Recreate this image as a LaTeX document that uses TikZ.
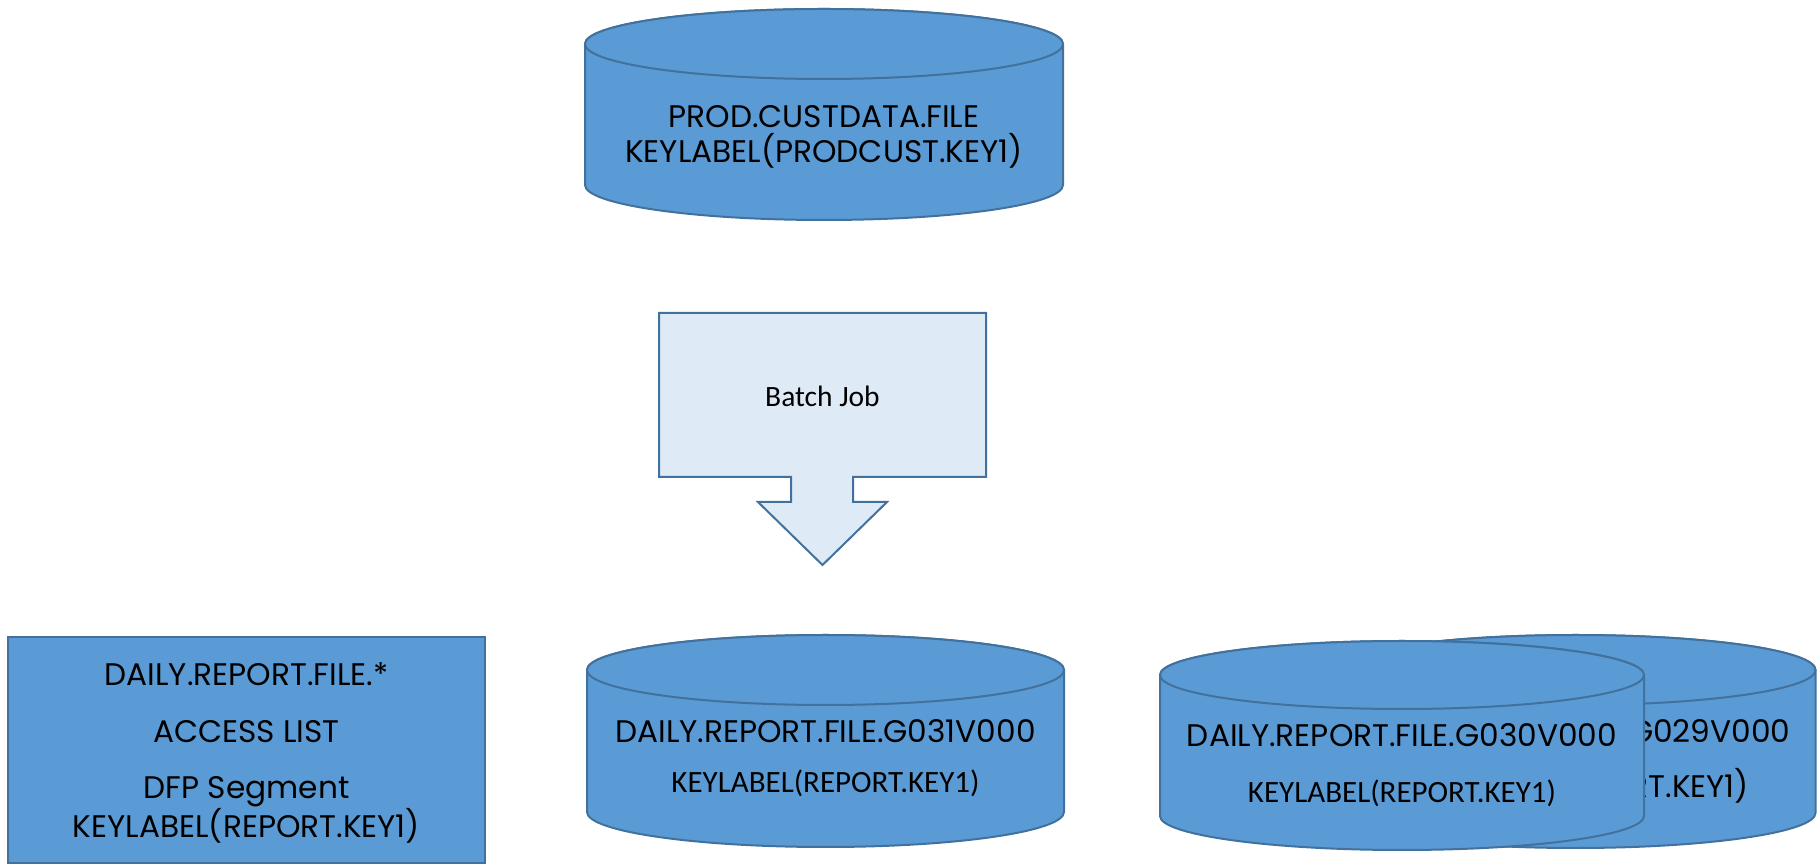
\documentclass[tikz,border=0pt]{standalone}
\usepackage{fontspec}
\newfontfamily\gothic{Poppins}
\newfontfamily\calib{Carlito}
\definecolor{cylfill}{HTML}{5B9BD5}
\definecolor{cylline}{HTML}{41719C}
\definecolor{arrfill}{HTML}{DEEBF7}
\newcommand\dbcyl[5]{%
  \draw[cylstyle] ({#1-#4},#2) -- ({#1-#4},#3)
    arc[start angle=180,end angle=360,x radius=#4,y radius=#5]
    -- ({#1+#4},#2)
    arc[start angle=0,end angle=180,x radius=#4,y radius=#5] -- cycle;
  \draw[cylstyle] (#1,#2) ellipse[x radius=#4,y radius=#5];
}
\tikzset{
  cylstyle/.style={fill=cylfill,draw=cylline,line width=2pt},
  boxstyle/.style={fill=cylfill,draw=cylline,line width=2pt},
  arrstyle/.style={fill=arrfill,draw=cylline,line width=2pt},
  gtxt/.style={anchor=base,inner sep=0pt,font=\gothic\fontsize{31.2}{37}\selectfont},
  ctxt/.style={anchor=base,inner sep=0pt,font=\calib\fontsize{31}{37}\selectfont},
  bjtxt/.style={anchor=base,inner sep=0pt,font=\calib\fontsize{29.5}{35}\selectfont},
}
\begin{document}
\begin{tikzpicture}[x=1pt,y=1pt]
\useasboundingbox (0,0) rectangle (1817,867);
% top cylinder
\dbcyl{824}{823}{682}{239}{35}
\node[gtxt] (p1) at (824,739) {PROD.CUSTDATA.FILE};
\node[gtxt] (p2) at (824,704) {KEYLABEL(PRODCUST.KEY1)};
% batch job arrow
\draw[arrstyle] (659,554) -- (986,554) -- (986,390) -- (853,390) -- (853,365)
  -- (887,365) -- (822.5,302) -- (758,365) -- (791,365) -- (791,390)
  -- (659,390) -- cycle;
\node[bjtxt] (bj) at (822.5,460.5) {Batch Job};
% left box
\draw[boxstyle] (8,4) rectangle (485,230);
\node[gtxt] (l1) at (246.5,181) {DAILY.REPORT.FILE.*};
\node[gtxt] (l2) at (246.5,124) {ACCESS LIST};
\node[gtxt] (l3) at (246.5,68) {DFP Segment};
\node[gtxt] (l4) at (246.5,29) {KEYLABEL(REPORT.KEY1)};
% middle bottom cylinder
\dbcyl{825.5}{197}{55}{238.5}{35}
\node[gtxt] (m1) at (825.5,124) {DAILY.REPORT.FILE.G031V000};
\node[ctxt] (m2) at (825.5,74) {KEYLABEL(REPORT.KEY1)};
% back right cylinder
\dbcyl{1575.5}{197}{54}{240}{35}
\node[gtxt] (b1) at (1575.5,124) {DAILY.REPORT.FILE.G029V000};
\node[gtxt] (b2) at (1575.5,69) {KEYLABEL(REPORT.KEY1)};
% front right cylinder
\dbcyl{1402}{192}{51}{242}{34}
\node[gtxt] (f1) at (1402,120) {DAILY.REPORT.FILE.G030V000};
\node[ctxt] (f2) at (1402,64) {KEYLABEL(REPORT.KEY1)};
\end{tikzpicture}
\end{document}
